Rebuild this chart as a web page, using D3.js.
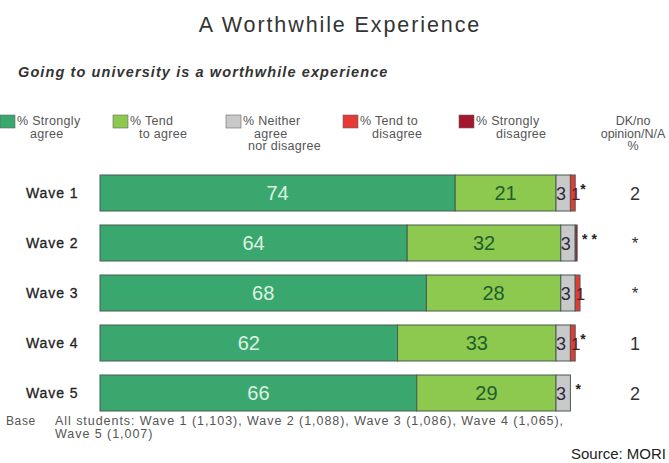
<!DOCTYPE html>
<html><head><meta charset="utf-8">
<script src="https://cdn.jsdelivr.net/npm/d3@7"></script>
<style>
html,body{margin:0;padding:0;background:#fff;}
svg{display:block;font-family:"Liberation Sans",Arial,sans-serif;}
</style></head>
<body><svg id="c" width="669" height="463"></svg>
<script>
const waves = ["Wave 1","Wave 2","Wave 3","Wave 4","Wave 5"];
const stronglyAgree = [74,64,68,62,66];
const tendAgree = [21,32,28,33,29];
const neither = [3,3,3,3,3];
const tendDisagree = [1,0,1,1,0];
const stronglyDisagree = [0,0.4,0,0,0];
const tendDisagreeLabels = ["1","","1","1",""];
const starLabels = ["*","* *","","*","*"];
const dkLabels = ["2","*","*","1","2"];
const seriesNames = ["% Strongly|agree","% Tend|to agree","% Neither|agree|nor disagree","% Tend to|disagree","% Strongly|disagree"];
const colors = ["#3aa86e","#8dc94f","#c9c9c9","#e53a35","#a3162e"];

const svg = d3.select("#c");
const x = d3.scaleLinear().domain([0,100]).range([100,580]);
const y = d3.scaleBand().domain(waves).range([171,415]).paddingInner(0.28).paddingOuter(0.08);

// Titles
svg.append("text").attr("x",340).attr("y",32).attr("text-anchor","middle")
  .attr("font-size",21.5).attr("letter-spacing",1.9).attr("fill","#333").text("A Worthwhile Experience");
svg.append("text").attr("x",18).attr("y",77).attr("font-size",14.5).attr("font-style","italic")
  .attr("font-weight","bold").attr("letter-spacing",1.1).attr("fill","#333").text("Going to university is a worthwhile experience");

// Legend
const legX = [0,113,226,343,459];
const indents = [[0,13],[0,9],[0,11,5],[0,12],[0,20]];
seriesNames.forEach((n,i)=>{
  svg.append("rect").attr("x",legX[i]).attr("y",115).attr("width",15).attr("height",13)
    .attr("fill",colors[i]).attr("stroke","#666").attr("stroke-width",0.6);
  const lines = n.split("|");
  lines.forEach((l,j)=>{
    svg.append("text").attr("x",legX[i]+17+indents[i][j]).attr("y",125+j*12.5)
      .attr("font-size",12.5).attr("letter-spacing",0.3).attr("fill","#555").text(l);
  });
});
["DK/no","opinion/N/A","%"].forEach((l,j)=>{
  svg.append("text").attr("x",633).attr("y",125+j*12.5).attr("text-anchor","middle")
    .attr("font-size",12.5).attr("fill","#555").text(l);
});

// Stack
const rows = waves.map((w,i)=>({wave:w, v:[stronglyAgree[i],tendAgree[i],neither[i],tendDisagree[i],stronglyDisagree[i]]}));
const keys = [0,1,2,3,4];
const stack = d3.stack().keys(keys).value((d,k)=>d.v[k]);
const layers = stack(rows);

const g = svg.append("g");
layers.forEach((layer,k)=>{
  g.selectAll(null).data(layer.filter(d=>d[1]-d[0]>0)).enter().append("rect")
    .attr("x",d=>x(d[0])).attr("y",d=>y(d.data.wave))
    .attr("width",d=>x(d[1])-x(d[0])).attr("height",y.bandwidth())
    .attr("fill",colors[k]).attr("stroke","#4a5a52").attr("stroke-width",1);
});

// Wave labels
waves.forEach(w=>{
  svg.append("text").attr("x",26).attr("y",y(w)+y.bandwidth()/2+5)
    .attr("font-size",14).attr("letter-spacing",0.9).attr("fill","#222")
    .attr("stroke","#222").attr("stroke-width",0.3).text(w);
});

// Segment value labels
const mid = y.bandwidth()/2;
layers[0].forEach(d=>{
  svg.append("text").attr("x",(x(d[0])+x(d[1]))/2).attr("y",y(d.data.wave)+mid+7)
    .attr("text-anchor","middle").attr("font-size",20).attr("fill","#dff2e4").text(d.data.v[0]);
});
layers[1].forEach(d=>{
  svg.append("text").attr("x",(x(d[0])+x(d[1]))/2).attr("y",y(d.data.wave)+mid+7)
    .attr("text-anchor","middle").attr("font-size",20).attr("fill","#1f5f2c").text(d.data.v[1]);
});
layers[2].forEach(d=>{
  svg.append("text").attr("x",x(d[0])).attr("y",y(d.data.wave)+mid+6.5)
    .attr("font-size",18).attr("fill","#2a2a3a").text(d.data.v[2]);
});
layers[3].forEach((d,i)=>{
  if(tendDisagreeLabels[i]) svg.append("text").attr("x",x(d[0])+0.5).attr("y",y(d.data.wave)+mid+6.5)
    .attr("font-size",17).attr("fill","#5a1a1a").text(tendDisagreeLabels[i]);
});
layers[4].forEach((d,i)=>{
  svg.append("text").attr("x",x(d[1])+5).attr("y",y(d.data.wave)+mid+1)
    .attr("font-size",14).attr("font-weight","bold").attr("fill","#222").text(starLabels[i]);
});
waves.forEach((w,i)=>{
  svg.append("text").attr("x",635).attr("y",y(w)+mid+(dkLabels[i]==="*"?6:7))
    .attr("text-anchor","middle").attr("font-size",dkLabels[i]==="*"?17:18).attr("fill","#333").text(dkLabels[i]);
});

// Footer
svg.append("text").attr("x",6).attr("y",425).attr("font-size",12).attr("letter-spacing",0.6).attr("fill","#555").text("Base");
svg.append("text").attr("x",55).attr("y",425).attr("font-size",12.5).attr("letter-spacing",0.95).attr("fill","#555")
  .text("All students: Wave 1 (1,103), Wave 2 (1,088), Wave 3 (1,086), Wave 4 (1,065),");
svg.append("text").attr("x",55).attr("y",438).attr("font-size",12.5).attr("letter-spacing",0.95).attr("fill","#555").text("Wave 5 (1,007)");
svg.append("text").attr("x",666).attr("y",459).attr("text-anchor","end").attr("font-size",15).attr("fill","#222").text("Source: MORI");
</script></body></html>
